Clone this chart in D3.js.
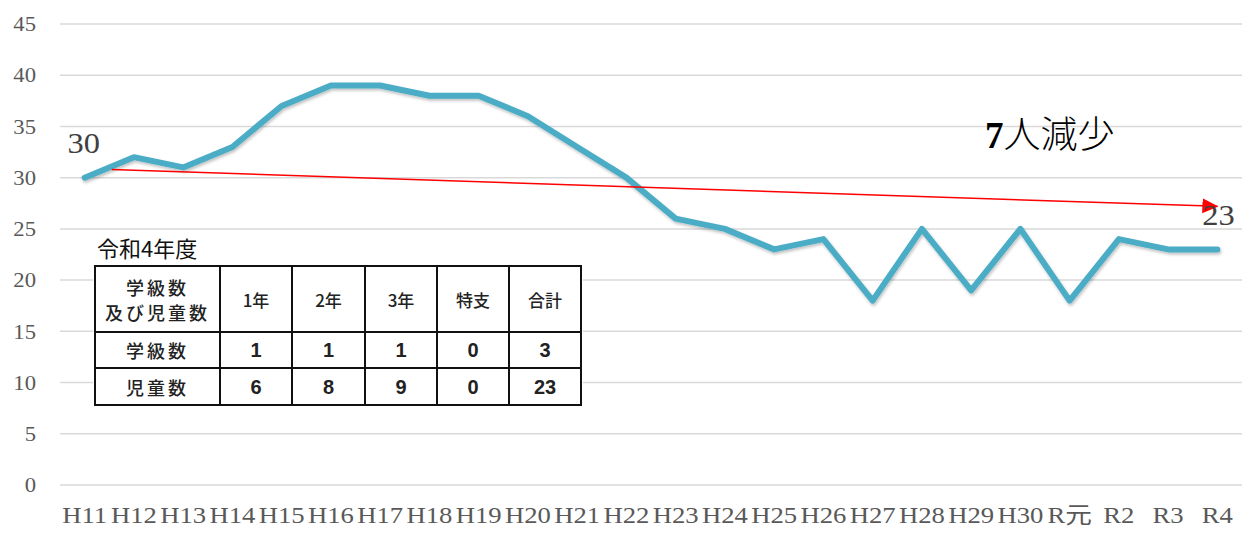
<!DOCTYPE html>
<html><head><meta charset="utf-8">
<script src="https://cdn.jsdelivr.net/npm/d3@7"></script>
<style>
html,body{margin:0;padding:0;background:#fff;}
svg{display:block;}
</style></head>
<body>
<svg id="chart" width="1247" height="540"></svg>
<script>
const categories = ["H11","H12","H13","H14","H15","H16","H17","H18","H19","H20","H21","H22","H23","H24","H25","H26","H27","H28","H29","H30","R元","R2","R3","R4"];
const values = [30,32,31,33,37,39,39,38,38,36,33,30,26,25,23,24,18,25,19,25,18,24,23,23];
const yTicks = [0,5,10,15,20,25,30,35,40,45];
const trendStart = {i: 0.55, v: 30.8};
const trendEnd = {i: 23, v: 27.2};
const firstLabel = "30";
const lastLabel = "23";
const annotation = "7人減少";
const tableTitle = "令和4年度";
const tableHeader = ["学級数\n及び児童数","1年","2年","3年","特支","合計"];
const tableRows = [["学級数","1","1","1","0","3"],["児童数","6","8","9","0","23"]];

const svg = d3.select("#chart");
const x = d3.scaleBand().domain(categories).range([60, 1242]);
const xc = d => x(d) + x.bandwidth()/2;
const xi = d3.scaleLinear().domain([0, categories.length-1]).range([xc(categories[0]), xc(categories[categories.length-1])]);
const y = d3.scaleLinear().domain([0,45]).range([485, 24]);

const serif = "'Liberation Serif','Noto Sans CJK JP',serif";
const sans = "'Noto Sans CJK JP','DejaVu Sans',sans-serif";

// gridlines
svg.append("g").selectAll("line").data(yTicks).join("line")
  .attr("x1", 60).attr("x2", 1242)
  .attr("y1", d => y(d)).attr("y2", d => y(d))
  .attr("stroke", "#d9d9d9").attr("stroke-width", 1.5);

// y axis labels
const yAxis = d3.axisLeft(y).tickValues(yTicks).tickSize(0).tickPadding(0);
const yg = svg.append("g").attr("transform", "translate(36,0)").call(yAxis);
yg.select(".domain").remove();
yg.selectAll("text").attr("font-family", serif).attr("font-size", 21).attr("fill", "#595959")
  .attr("transform", "scale(1.08,1)");

// x axis labels
const xAxis = d3.axisBottom(x).tickSize(0).tickPadding(0);
const xg = svg.append("g").attr("transform", "translate(0,502)").call(xAxis);
xg.select(".domain").remove();
xg.selectAll("text").attr("font-family", serif).attr("font-size", 23).attr("fill", "#595959").attr("dy", "0.9em")
  .attr("transform", "scale(1.16,1)");

// line
const defs = svg.append("defs");
const f = defs.append("filter").attr("id","sh").attr("x","-5%").attr("y","-5%").attr("width","110%").attr("height","120%");
f.append("feDropShadow").attr("dx",1).attr("dy",2).attr("stdDeviation",1.5).attr("flood-color","#000").attr("flood-opacity",0.25);

const line = d3.line().x((d,i) => xc(categories[i])).y(d => y(d));
svg.append("path").datum(values).attr("d", line)
  .attr("fill","none").attr("stroke","#4bacc6").attr("stroke-width",6)
  .attr("stroke-linejoin","round").attr("stroke-linecap","round").attr("filter","url(#sh)");

// table
const tb = svg.append("g");
tb.append("rect").attr("x", 93).attr("y", 231).attr("width", 490).attr("height", 177).attr("fill", "#fff");
tb.append("text").attr("x", 97).attr("y", 257).text(tableTitle)
  .attr("font-family", sans).attr("font-size", 22).attr("fill", "#111");
const colX = [95, 220, 292, 365, 437, 509, 581];
const rowY = [266, 332, 368, 405];
const allRows = [tableHeader].concat(tableRows);
allRows.forEach((row, r) => {
  row.forEach((cell, c) => {
    const cx = (colX[c] + colX[c+1]) / 2;
    const cy = (rowY[r] + rowY[r+1]) / 2;
    const lines = cell.split("\n");
    const isNum = /^[0-9]+$/.test(cell);
    const wide = c === 0;
    lines.forEach((ln, k) => {
      tb.append("text").attr("x", cx).attr("y", cy + (k - (lines.length-1)/2) * 25)
        .attr("text-anchor","middle").attr("dominant-baseline","central")
        .attr("font-family", isNum ? "'Liberation Sans',sans-serif" : sans)
        .attr("font-weight", isNum ? "bold" : "500")
        .attr("letter-spacing", wide ? 3 : 0)
        .attr("font-size", isNum ? 20 : (wide ? 18 : 17)).attr("fill", "#222").text(ln);
    });
  });
});
rowY.forEach(v => tb.append("line").attr("x1", colX[0]-1).attr("x2", colX[6]+1).attr("y1", v).attr("y2", v).attr("stroke","#111").attr("stroke-width",2));
colX.forEach(v => tb.append("line").attr("x1", v).attr("x2", v).attr("y1", rowY[0]).attr("y2", rowY[3]).attr("stroke","#111").attr("stroke-width",2));

// trend arrow
defs.append("marker").attr("id","arr").attr("viewBox","0 0 16 15").attr("refX",15).attr("refY",7.5)
  .attr("markerWidth",16).attr("markerHeight",15).attr("markerUnits","userSpaceOnUse").attr("orient","auto")
  .append("path").attr("d","M0,0L16,7.5L0,15z").attr("fill","#ff0000");
svg.append("line")
  .attr("x1", xi(trendStart.i)).attr("y1", y(trendStart.v))
  .attr("x2", xi(trendEnd.i)).attr("y2", y(trendEnd.v))
  .attr("stroke","#ff0000").attr("stroke-width",1.5)
  .attr("marker-end","url(#arr)");

// labels
svg.append("text").attr("x", xc(categories[0]) - 17).attr("y", 153).text(firstLabel)
  .attr("font-family", serif).attr("font-size", 29).attr("fill", "#404040")
  .attr("transform", `translate(${xc(categories[0]) - 17},0) scale(1.12,1) translate(${-(xc(categories[0]) - 17)},0)`);
svg.append("text").attr("x", xc(categories[23]) - 15).attr("y", 225).text(lastLabel)
  .attr("font-family", serif).attr("font-size", 29).attr("fill", "#404040")
  .attr("transform", `translate(${xc(categories[23]) - 15},0) scale(1.12,1) translate(${-(xc(categories[23]) - 15)},0)`);
svg.append("text").attr("x", 985).attr("y", 148)
  .attr("font-size", 37).attr("fill", "#000")
  .call(t => {
    t.append("tspan").attr("font-family", serif).attr("font-weight","bold").text(annotation.slice(0,1));
    t.append("tspan").attr("font-family", "'Noto Sans CJK JP',sans-serif").attr("font-weight","300").text(annotation.slice(1));
  });
</script>
</body></html>
